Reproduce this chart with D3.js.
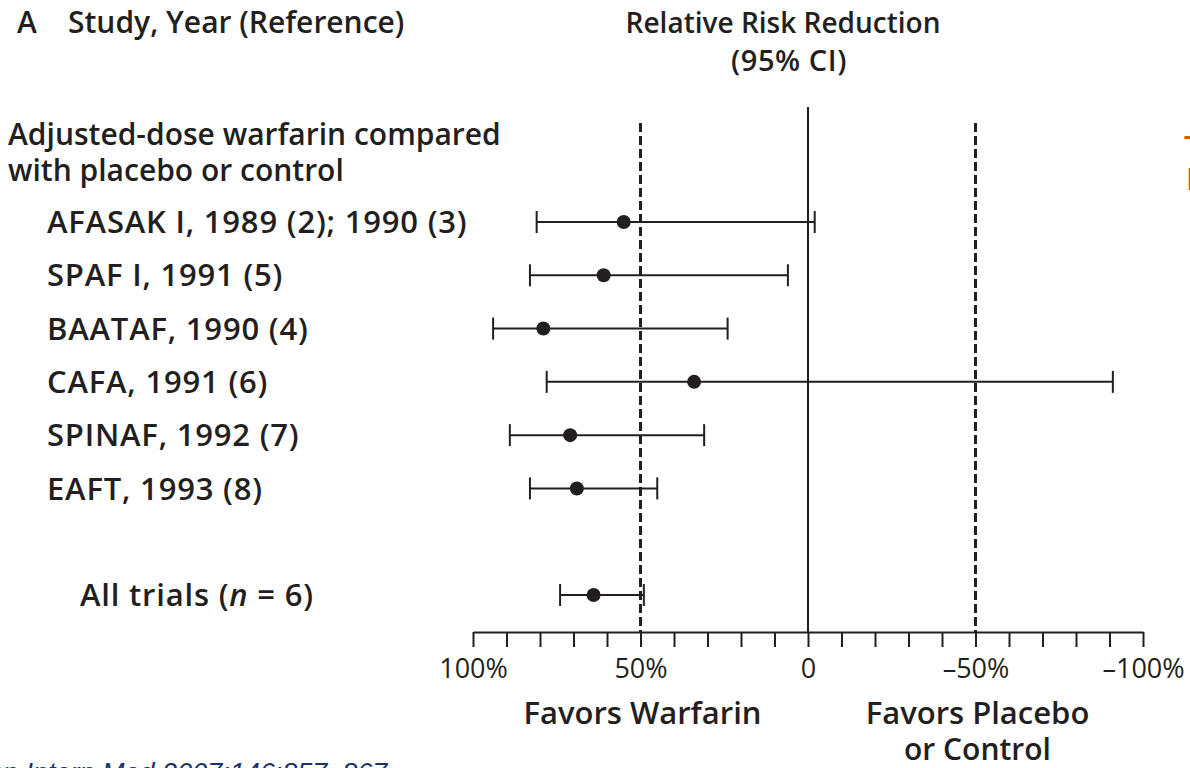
<!DOCTYPE html>
<html>
<head>
<meta charset="utf-8">
<script src="https://cdn.jsdelivr.net/npm/d3@7"></script>
<style>
  html, body { margin: 0; padding: 0; background: #fff; }
  svg { display: block; }
  .bold { font-family: "Open Sans", "Noto Sans", sans-serif; font-weight: 600; fill: #231f20; }
  .reg { font-family: "Open Sans", "Noto Sans", sans-serif; font-weight: 400; fill: #231f20; }
</style>
</head>
<body>
<svg id="chart" width="1190" height="768"></svg>
<script>
// Adjusted-dose warfarin vs placebo/control: relative risk reduction of stroke
const studies = [
  "AFASAK I, 1989 (2); 1990 (3)",
  "SPAF I, 1991 (5)",
  "BAATAF, 1990 (4)",
  "CAFA, 1991 (6)",
  "SPINAF, 1992 (7)",
  "EAFT, 1993 (8)",
  "All trials (n = 6)"
];
const rowIndex = [0, 1, 2, 3, 4, 5, 7];          // blank row before the pooled estimate
const rrr      = [55, 61, 79, 34, 71, 69, 64];   // point estimate, %
const ciHigh   = [81, 83, 94, 78, 89, 83, 74];   // upper bound of reduction, %
const ciLow    = [-2,  6, 24, -91, 31, 45, 49];  // lower bound of reduction, %

const tickValues = d3.range(100, -101, -10);
const tickLabels = { "100": "100%", "50": "50%", "0": "0", "-50": "\u201350%", "-100": "\u2013100%" };
const refLines = [50, -50];

const svg = d3.select("#chart");

const x = d3.scaleLinear().domain([100, -100]).range([473, 1143]);
const y = d3.scaleLinear().domain([0, 7]).range([222, 595]);
const axisY = 632;
const ink = "#231f20";

function boldText(px, py, str, size, anchor) {
  return svg.append("text").attr("class", "bold")
    .attr("x", px).attr("y", py)
    .attr("text-anchor", anchor || "start")
    .style("font-size", size + "px")
    .text(str);
}

// headings
boldText(17, 33, "A", 30);
boldText(68, 33, "Study, Year (Reference)", 30);
boldText(783, 33, "Relative Risk Reduction", 28, "middle");
boldText(789, 71, "(95% CI)", 29, "middle").style("letter-spacing", "0.6px");

boldText(8, 145, "Adjusted-dose warfarin compared", 30);
boldText(8, 181, "with placebo or control", 30);

// study labels
const labels = svg.append("g");
studies.forEach((s, i) => {
  const t = labels.append("text").attr("class", "bold")
    .attr("x", i === studies.length - 1 ? 80 : 47)
    .attr("y", y(rowIndex[i]))
    .attr("dy", "0.36em")
    .style("font-size", "31px")
    .style("letter-spacing", "0.8px");
  if (s.includes("(n = 6)")) {
    t.append("tspan").text("All trials (");
    t.append("tspan").style("font-style", "italic").text("n");
    t.append("tspan").text(" = 6)");
  } else {
    t.text(s);
  }
});

// reference lines
svg.append("line")
  .attr("x1", x(0)).attr("x2", x(0)).attr("y1", 107).attr("y2", axisY)
  .attr("stroke", ink).attr("stroke-width", 2);
svg.selectAll(".ref").data(refLines).enter().append("line")
  .attr("class", "ref")
  .attr("x1", d => x(d)).attr("x2", d => x(d))
  .attr("y1", 123).attr("y2", axisY)
  .attr("stroke", ink).attr("stroke-width", 3)
  .attr("stroke-dasharray", "9,4");

// confidence intervals
const rows = svg.append("g").selectAll("g").data(studies).enter().append("g")
  .attr("transform", (d, i) => `translate(0,${y(rowIndex[i])})`);
rows.append("line")
  .attr("x1", (d, i) => x(ciHigh[i])).attr("x2", (d, i) => x(ciLow[i]))
  .attr("stroke", ink).attr("stroke-width", 2);
rows.append("line")
  .attr("x1", (d, i) => x(ciHigh[i])).attr("x2", (d, i) => x(ciHigh[i]))
  .attr("y1", -11).attr("y2", 11)
  .attr("stroke", ink).attr("stroke-width", 2);
rows.append("line")
  .attr("x1", (d, i) => x(ciLow[i])).attr("x2", (d, i) => x(ciLow[i]))
  .attr("y1", -11).attr("y2", 11)
  .attr("stroke", ink).attr("stroke-width", 2);
rows.append("circle")
  .attr("cx", (d, i) => x(rrr[i])).attr("cy", 0).attr("r", 7)
  .attr("fill", ink);

// x axis
const axis = d3.axisBottom(x)
  .tickValues(tickValues)
  .tickSize(15)
  .tickSizeOuter(0)
  .tickPadding(12)
  .tickFormat(d => tickLabels[String(d)] || "");
const ax = svg.append("g").attr("transform", `translate(0,${axisY})`).call(axis);
ax.select(".domain").attr("stroke", ink).attr("stroke-width", 2);
ax.selectAll(".tick line").attr("stroke", ink).attr("stroke-width", 2);
ax.selectAll(".tick text")
  .attr("class", "reg")
  .style("font-size", "27px")
  .attr("fill", ink);

// direction labels
boldText(x(50) + 2, 724, "Favors Warfarin", 31, "middle");
boldText(x(-50) + 2, 724, "Favors Placebo", 31, "middle");
boldText(x(-50) + 2, 760, "or Control", 30, "middle");

// neighbouring panel heading, cut at the right edge
svg.append("text").attr("x", 1184).attr("y", 158)
  .style("font-family", "Open Sans, sans-serif").style("font-weight", 600)
  .style("font-size", "30px").attr("fill", "#b8661e").text("T");
svg.append("text").attr("x", 1186).attr("y", 190)
  .style("font-family", "Open Sans, sans-serif").style("font-weight", 600)
  .style("font-size", "30px").attr("fill", "#b8661e").text("E");

// citation line, clipped at the bottom edge
svg.append("text").attr("x", -30).attr("y", 782)
  .style("font-family", "Liberation Sans, Arial, sans-serif").style("font-style", "italic")
  .style("font-size", "27px").attr("fill", "#1d3266")
  .text("Ann Intern Med 2007;146:857\u2013867.");
</script>
</body>
</html>
